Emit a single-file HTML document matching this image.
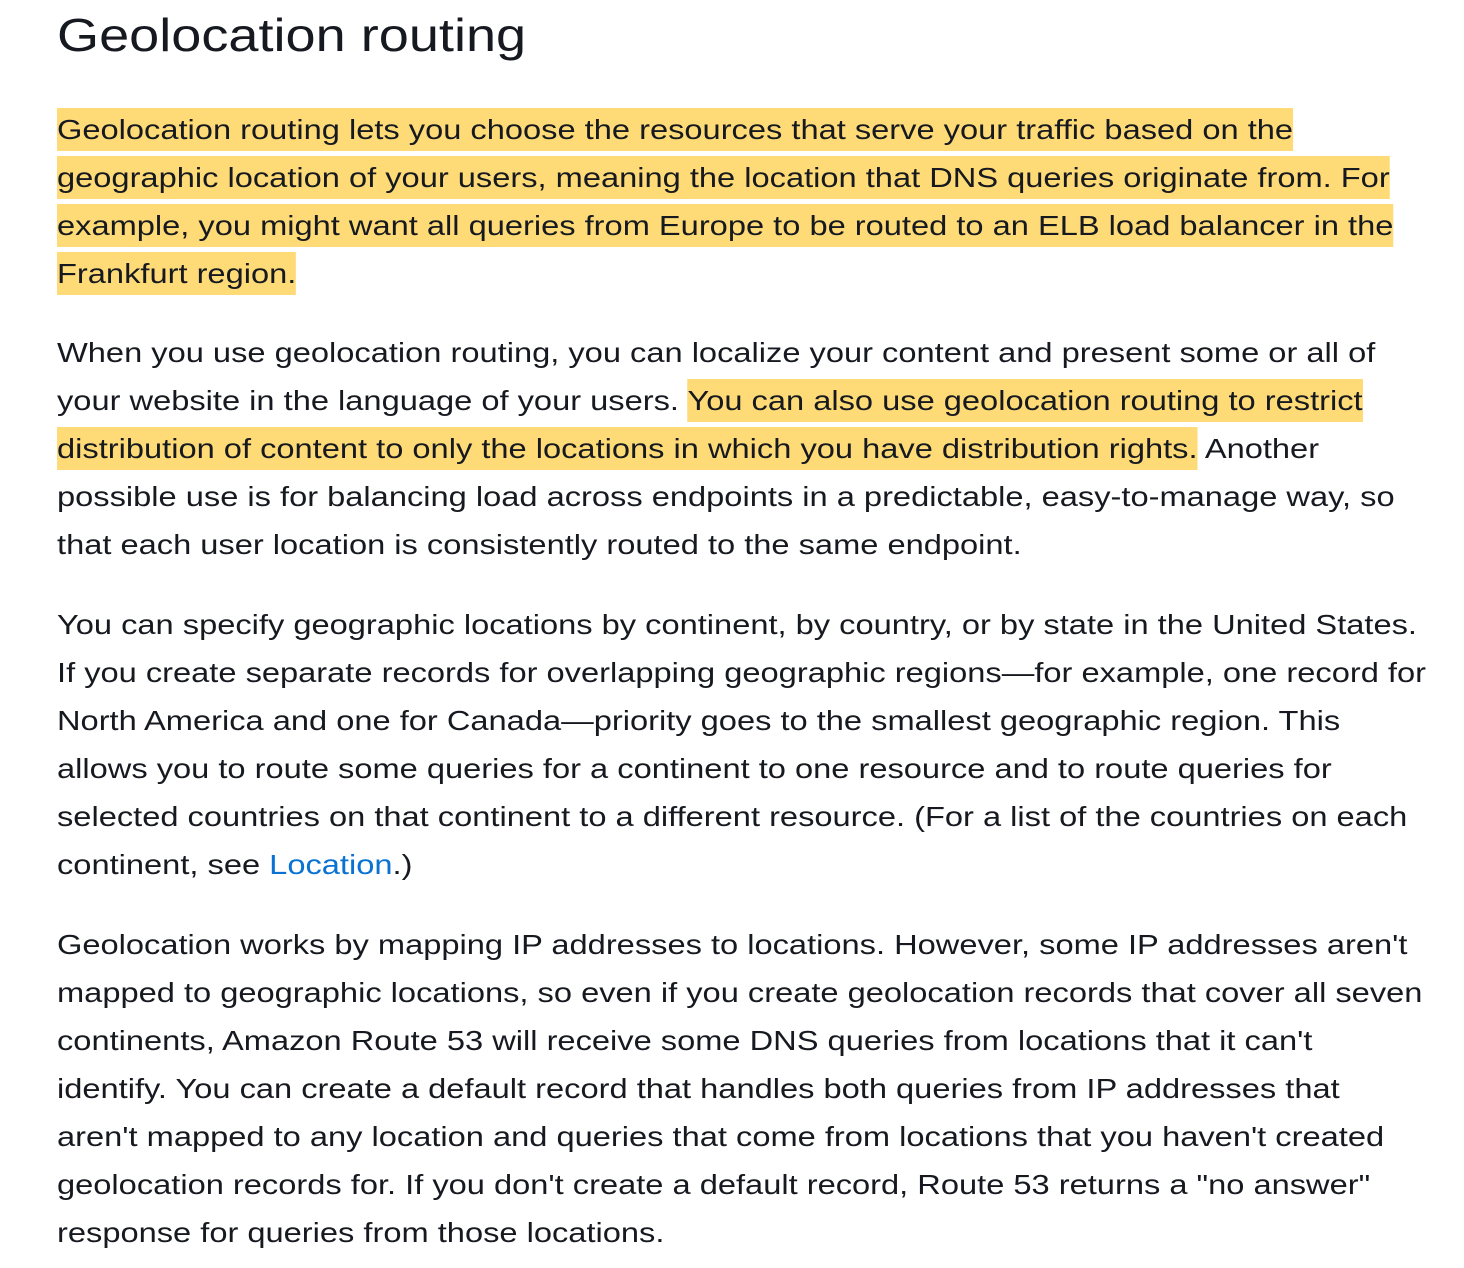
<!DOCTYPE html>
<html><head><meta charset="utf-8"><style>
html,body{margin:0;padding:0;background:#fff;width:1464px;height:1268px;overflow:hidden}
body{font-family:"Liberation Sans",sans-serif;color:#16191f}
h1{position:absolute;left:57px;top:0;margin:0;font-weight:normal;font-size:46px;line-height:70px;height:70px;transform:scaleX(1.176);transform-origin:0 0;white-space:nowrap}
.p{position:absolute;left:57px;transform:scaleX(1.165);transform-origin:0 0}
.l{height:48px;line-height:48px;font-size:28px;white-space:nowrap}
.hl{background:#fedb76;padding:6px 0;-webkit-box-decoration-break:clone;box-decoration-break:clone}
a{color:#0972d3;text-decoration:none}
</style></head><body>
<h1>Geolocation routing</h1>
<div class="p" style="top:106px">
<div class="l"><span class="hl">Geolocation routing lets you choose the resources that serve your traffic based on the</span></div>
<div class="l"><span class="hl">geographic location of your users, meaning the location that DNS queries originate from. For</span></div>
<div class="l"><span class="hl">example, you might want all queries from Europe to be routed to an ELB load balancer in the</span></div>
<div class="l"><span class="hl">Frankfurt region.</span></div>
</div>
<div class="p" style="top:329px">
<div class="l">When you use geolocation routing, you can localize your content and present some or all of</div>
<div class="l">your website in the language of your users. <span class="hl">You can also use geolocation routing to restrict</span></div>
<div class="l"><span class="hl">distribution of content to only the locations in which you have distribution rights.</span> Another</div>
<div class="l">possible use is for balancing load across endpoints in a predictable, easy-to-manage way, so</div>
<div class="l">that each user location is consistently routed to the same endpoint.</div>
</div>
<div class="p" style="top:601px">
<div class="l">You can specify geographic locations by continent, by country, or by state in the United States.</div>
<div class="l">If you create separate records for overlapping geographic regions—for example, one record for</div>
<div class="l">North America and one for Canada—priority goes to the smallest geographic region. This</div>
<div class="l">allows you to route some queries for a continent to one resource and to route queries for</div>
<div class="l">selected countries on that continent to a different resource. (For a list of the countries on each</div>
<div class="l">continent, see <a href="#">Location</a>.)</div>
</div>
<div class="p" style="top:921px">
<div class="l">Geolocation works by mapping IP addresses to locations. However, some IP addresses aren't</div>
<div class="l">mapped to geographic locations, so even if you create geolocation records that cover all seven</div>
<div class="l">continents, Amazon Route 53 will receive some DNS queries from locations that it can't</div>
<div class="l">identify. You can create a default record that handles both queries from IP addresses that</div>
<div class="l">aren't mapped to any location and queries that come from locations that you haven't created</div>
<div class="l">geolocation records for. If you don't create a default record, Route 53 returns a "no answer"</div>
<div class="l">response for queries from those locations.</div>
</div>
</body></html>
